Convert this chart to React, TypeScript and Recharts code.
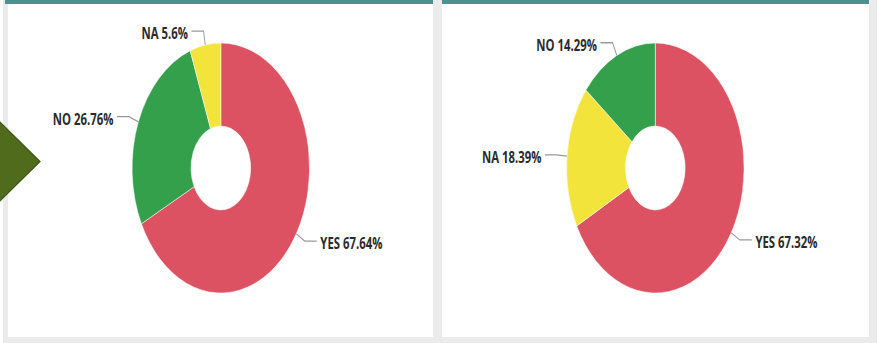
import React from 'react';
import { PieChart, Pie, Cell } from 'recharts';

// ---- data ----
const leftNames = ['YES', 'NO', 'NA'];
const leftValues = [67.64, 26.76, 5.6];
const rightNames = ['YES', 'NA', 'NO'];
const rightValues = [67.32, 18.39, 14.29];

const sliceColors: Record<string, string> = {
  YES: '#dc5262',
  NO: '#35a04b',
  NA: '#f3e43c',
};

const leftData = leftNames.map((n, i) => ({ name: n, value: leftValues[i] }));
const rightData = rightNames.map((n, i) => ({ name: n, value: rightValues[i] }));

// horizontal squash of the chart drawing
const SX = 0.71;
const W = 879;
const H = 343;

const RAD = Math.PI / 180;

function renderLabel(p: any) {
  const { cx, cy, midAngle, outerRadius, name, value } = p;
  const cos = Math.cos(-midAngle * RAD);
  const sin = Math.sin(-midAngle * RAD);
  const x0 = cx + outerRadius * cos;
  const y0 = cy + outerRadius * sin;
  const x1 = cx + (outerRadius + 14) * cos;
  const y1 = cy + (outerRadius + 14) * sin;
  const dir = cos >= 0 ? 1 : -1;
  const x2 = x1 + dir * 17;
  return (
    <g key={`lbl-${name}`}>
      <path d={`M${x0},${y0}L${x1},${y1}L${x2},${y1}`} stroke="#9a9a9a" strokeWidth={1.3} fill="none" />
      <text
        x={x2 + dir * 5}
        y={y1 + 1.5}
        textAnchor={dir > 0 ? 'start' : 'end'}
        dominantBaseline="central"
        fontFamily="'Open Sans', sans-serif"
        fontWeight={700}
        fontSize={16}
        fill="#2b2b2b"
      >
        {`${name} ${value}%`}
      </text>
    </g>
  );
}

const gray = '#ebebeb';
const teal = '#4a9190';

export default function App() {
  return (
    <div style={{ position: 'absolute', left: 0, top: 0, width: W, height: H, background: '#fff', overflow: 'hidden' }}>
      {/* panel frames */}
      <div style={{ position: 'absolute', left: 3, top: 0, width: 5, height: 343, background: gray }} />
      <div style={{ position: 'absolute', left: 433, top: 0, width: 9, height: 343, background: gray }} />
      <div style={{ position: 'absolute', left: 869, top: 0, width: 8, height: 343, background: gray }} />
      <div style={{ position: 'absolute', left: 3, top: 337, width: 874, height: 6, background: gray }} />
      <div style={{ position: 'absolute', left: 5, top: 0, width: 428, height: 4, background: teal }} />
      <div style={{ position: 'absolute', left: 442, top: 0, width: 427, height: 4, background: teal }} />

      {/* arrow */}
      <svg width={50} height={343} style={{ position: 'absolute', left: 0, top: 0 }}>
        <polygon points="-2,120 40,161.5 -2,203" fill="#4f6b1b" stroke="#3c5412" strokeWidth={1.2} />
      </svg>

      {/* charts */}
      <div style={{ position: 'absolute', left: 0, top: 0, width: W / SX, height: H, transform: `scaleX(${SX})`, transformOrigin: '0 0' }}>
        <PieChart width={Math.round(W / SX)} height={H} margin={{ top: 0, right: 0, bottom: 0, left: 0 }}>
          <Pie
            data={leftData}
            dataKey="value"
            nameKey="name"
            cx={311}
            cy={168}
            outerRadius={125}
            innerRadius={42}
            startAngle={90}
            endAngle={-270}
            stroke="#ffffff"
            strokeWidth={0.6}
            label={renderLabel}
            labelLine={false}
            isAnimationActive={false}
          >
            {leftData.map((d) => (
              <Cell key={d.name} fill={sliceColors[d.name]} />
            ))}
          </Pie>
          <Pie
            data={rightData}
            dataKey="value"
            nameKey="name"
            cx={923}
            cy={168}
            outerRadius={125}
            innerRadius={42}
            startAngle={90}
            endAngle={-270}
            stroke="#ffffff"
            strokeWidth={0.6}
            label={renderLabel}
            labelLine={false}
            isAnimationActive={false}
          >
            {rightData.map((d) => (
              <Cell key={d.name} fill={sliceColors[d.name]} />
            ))}
          </Pie>
        </PieChart>
      </div>
    </div>
  );
}
